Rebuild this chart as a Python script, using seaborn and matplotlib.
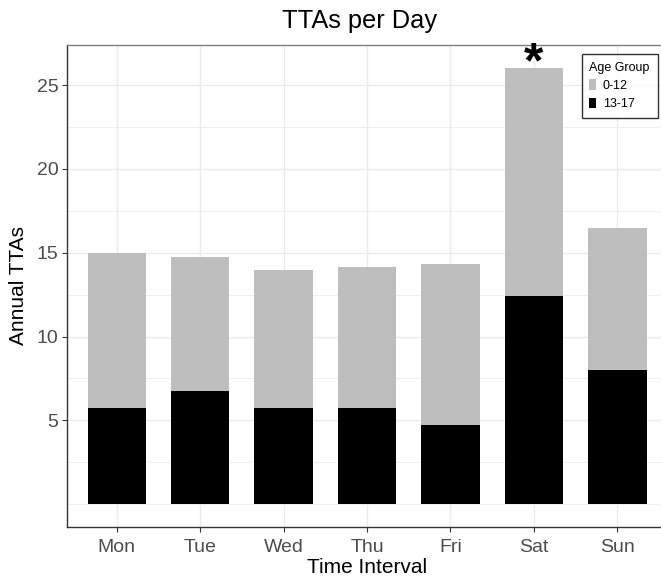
import matplotlib
matplotlib.use("Agg")
import matplotlib.pyplot as plt
import seaborn as sns
import numpy as np
import pandas as pd
from matplotlib.patches import Patch
from matplotlib.ticker import FixedLocator

days = ["Mon", "Tue", "Wed", "Thu", "Fri", "Sat", "Sun"]
age_0_12 = [9.25, 8.0, 8.25, 8.4, 9.6, 13.6, 8.5]
age_13_17 = [5.75, 6.75, 5.75, 5.75, 4.75, 12.4, 8.0]
y_ticks = [5, 10, 15, 20, 25]
y_minor = [0, 2.5, 7.5, 12.5, 17.5, 22.5]

df = pd.DataFrame({"day": days, "a": age_0_12, "b": age_13_17})
df["total"] = df["a"] + df["b"]

sns.set_theme(style="white")
plt.rcParams["font.family"] = ["Liberation Sans", "DejaVu Sans"]
plt.rcParams["text.color"] = "black"

W, H = 661, 577
fig = plt.figure(figsize=(W / 100, H / 100), dpi=100)
left, right, top, bottom = 66.7, 667.4, 45, 526.7
ax = fig.add_axes([left / W, 1 - bottom / H, (right - left) / W, (bottom - top) / H])

sns.barplot(data=df, x="day", y="total", order=days, color="#BEBEBE",
            saturation=1, width=0.7, ax=ax, zorder=2, linewidth=0, edgecolor="none")
sns.barplot(data=df, x="day", y="b", order=days, color="#000000",
            saturation=1, width=0.7, ax=ax, zorder=3, linewidth=0, edgecolor="none")

ax.set_xlim(-0.6, 6.6)
ax.set_ylim(-1.34, 27.39)
ax.yaxis.set_major_locator(FixedLocator(y_ticks))
ax.yaxis.set_minor_locator(FixedLocator(y_minor))
ax.grid(True, which="major", color="#EBEBEB", linewidth=1.0, zorder=0)
ax.grid(True, which="minor", axis="y", color="#EBEBEB", linewidth=0.6, zorder=0)
ax.set_axisbelow(True)

for s in ["left", "bottom"]:
    ax.spines[s].set_color("#333333")
    ax.spines[s].set_linewidth(1.0)
for s in ["top", "right"]:
    ax.spines[s].set_color("#7F7F7F")
    ax.spines[s].set_linewidth(1.0)

ax.tick_params(axis="x", which="major", pad=5)
ax.tick_params(axis="y", which="major", pad=2.5)
ax.tick_params(axis="both", which="major", length=3.5, width=0.8, color="#333333",
               labelsize=14, labelcolor="#4D4D4D", left=True, bottom=True)
ax.tick_params(axis="y", which="minor", length=0)

ax.set_xlabel("Time Interval", fontsize=15, color="black", labelpad=2)
ax.set_ylabel("Annual TTAs", fontsize=15, color="black", labelpad=6)
fig.text(360 / W, 1 - 21 / H, "TTAs per Day", fontsize=18.3, ha="center", va="center",
         color="black")

sat_idx = days.index("Sat")
ax.annotate("*", xy=(sat_idx, df["total"][sat_idx]), xytext=(0, -14),
            textcoords="offset points", fontsize=36, fontweight="bold",
            ha="center", va="bottom", color="black")

handles = [Patch(facecolor="#BEBEBE", edgecolor="none", label="0-12"),
           Patch(facecolor="#000000", edgecolor="none", label="13-17")]
leg = fig.legend(handles=handles, title="Age Group", loc="upper left",
                 bbox_to_anchor=(581.7 / W, 1 - 54 / H), bbox_transform=fig.transFigure,
                 borderaxespad=0, fontsize=9, title_fontsize=9, frameon=True,
                 fancybox=False, handlelength=0.55, handleheight=0.95,
                 handletextpad=0.5, labelspacing=0.45, borderpad=0.62,
                 alignment="left", labelcolor="black")
leg.get_title().set_color("black")
leg.get_frame().set_edgecolor("black")
leg.get_frame().set_linewidth(1.0)

fig.savefig("out.png", dpi=100)
